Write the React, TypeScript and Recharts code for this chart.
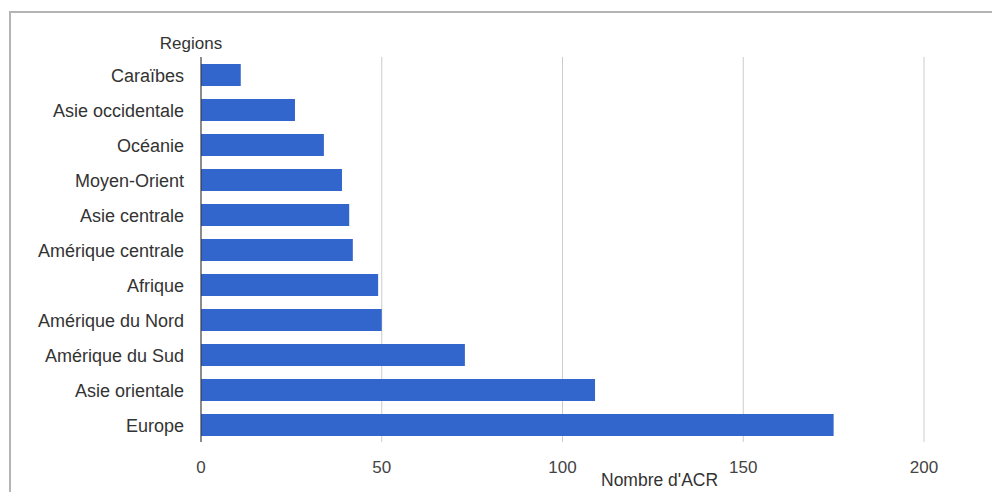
import React from 'react';
import { BarChart, Bar, XAxis, YAxis, CartesianGrid } from 'recharts';

const regions = [
    'Caraïbes',
    'Asie occidentale',
    'Océanie',
    'Moyen-Orient',
    'Asie centrale',
    'Amérique centrale',
    'Afrique',
    'Amérique du Nord',
    'Amérique du Sud',
    'Asie orientale',
    'Europe',
];
const acrCounts = [11, 26, 34, 39, 41, 42, 49, 50, 73, 109, 175];
const xTicks = [0, 50, 100, 150, 200];

const data = regions.map((region, i) => ({ region, acr: acrCounts[i] }));

const font = '"Liberation Sans", Arial, sans-serif';

export default function App() {
    return (
        <div style={{ position: 'absolute', left: 0, top: 0, width: 992, height: 492, background: '#fff', fontFamily: font, overflow: 'hidden' }}>
            <div style={{ position: 'absolute', left: 9, top: 11, width: 1000, height: 500, borderTop: '2px solid #b4b4b4', borderLeft: '2px solid #b4b4b4' }} />
            <BarChart
                width={992}
                height={492}
                data={data}
                layout="vertical"
                margin={{ top: 57, right: 68, bottom: 20, left: 16 }}
                barSize={22}
            >
                <CartesianGrid horizontal={false} stroke="#cccccc" />
                <XAxis
                    type="number"
                    domain={[0, 200]}
                    ticks={xTicks}
                    axisLine={false}
                    tickLine={false}
                    tickSize={0}
                    tickMargin={19}
                    height={30}
                    tick={{ fill: '#444', fontSize: 17, fontFamily: font }}
                />
                <YAxis
                    type="category"
                    dataKey="region"
                    width={185}
                    axisLine={{ stroke: '#333' }}
                    tickLine={false}
                    tickSize={0}
                    tickMargin={17}
                    interval={0}
                    tick={{ fill: '#333', fontSize: 18, fontFamily: font, dy: 1 }}
                />
                <Bar dataKey="acr" fill="#3366cc" isAnimationActive={false} />
            </BarChart>
            <div style={{ position: 'absolute', left: 141, width: 100, top: 34, textAlign: 'center', fontSize: 17, color: '#333' }}>Regions</div>
            <div style={{ position: 'absolute', left: 601, top: 470, fontSize: 17.5, color: '#333' }}>Nombre d'ACR</div>
        </div>
    );
}
